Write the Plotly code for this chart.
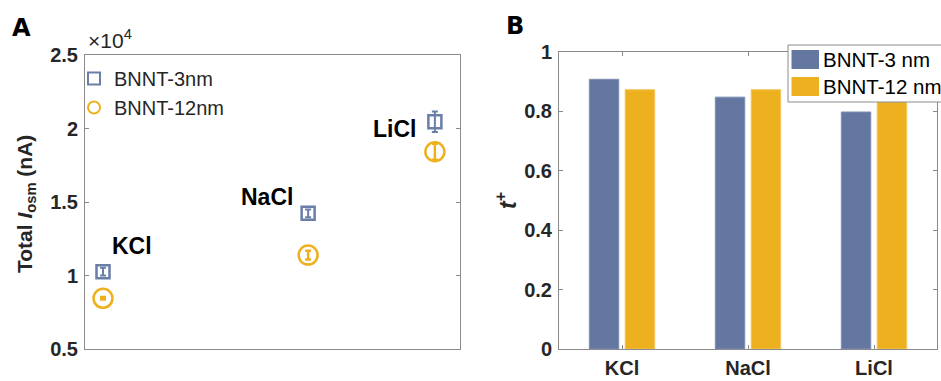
import plotly.graph_objects as go

# ---- data ----
salts = ["KCl", "NaCl", "LiCl"]
# horizontal placement of each salt in panel A
salt_pos = [0.048, 0.595, 0.933]

# Panel A: total osmotic current (nA)
iosm_3nm = [10260, 14230, 20460]
iosm_3nm_err = [260, 260, 700]
iosm_12nm = [8450, 11390, 18420]
iosm_12nm_err = [90, 300, 550]
iosm_ticks = [5000, 10000, 15000, 20000, 25000]
iosm_ticktext = ["0.5", "1", "1.5", "2", "2.5"]

# Panel B: cation transference number
tplus_3nm = [0.908, 0.848, 0.798]
tplus_12nm = [0.873, 0.873, 0.832]

BLUE = "#6477a1"
BLUE_MK = "#6a7ea8"
ORANGE = "#edb120"
AXIS = "#8a8a8a"
TXT = "#262626"
FONT = "Liberation Sans, Arial, sans-serif"

W, H = 941, 381


def px(x):
    return x / W


def py(y):
    return (H - y) / H


fig = go.Figure()

# ---- panel A ----
fig.add_trace(go.Scatter(
    x=salt_pos, y=iosm_3nm, mode="markers", name="BNNT-3nm",
    marker=dict(symbol="square-open", size=13, color=BLUE_MK, line=dict(width=2.5, color=BLUE_MK)),
    error_y=dict(type="data", array=iosm_3nm_err, color=BLUE_MK, thickness=2, width=3),
    xaxis="x", yaxis="y", legend="legend",
))
fig.add_trace(go.Scatter(
    x=salt_pos, y=iosm_12nm, mode="markers", name="BNNT-12nm",
    marker=dict(symbol="circle-open", size=19, color=ORANGE, line=dict(width=2.5, color=ORANGE)),
    error_y=dict(type="data", array=iosm_12nm_err, color=ORANGE, thickness=2.5, width=3),
    xaxis="x", yaxis="y", legend="legend",
))

# ---- panel B ----
fig.add_trace(go.Bar(
    x=salts, y=tplus_3nm, name="BNNT-3 nm", marker=dict(color=BLUE, line=dict(color="#7f90b4", width=1)),
    xaxis="x2", yaxis="y2", showlegend=False,
))
fig.add_trace(go.Bar(
    x=salts, y=tplus_12nm, name="BNNT-12 nm", marker=dict(color=ORANGE, line=dict(color="#f2c35a", width=1)),
    xaxis="x2", yaxis="y2", showlegend=False,
))

tickfont = dict(family=FONT, size=20, color=TXT, weight="bold")

annotations = [
    # panel letters
    dict(text="<b>A</b>", x=px(21), y=py(27.5), font=dict(family="Arial Black, DejaVu Sans, sans-serif",
                                                         size=24, color="black")),
    dict(text="<b>B</b>", x=px(514.5), y=py(26), font=dict(family="Arial Black, DejaVu Sans, sans-serif",
                                                          size=24, color="black")),
    # exponent label for panel A
    dict(text="×10<sup>4</sup>", x=px(86), y=py(39), xanchor="left",
         font=dict(family=FONT, size=21, color=TXT)),
    # y-axis titles
    dict(text="<b>Total <i>I</i><sub>osm</sub> (nA)</b>", x=px(26), y=py(204), textangle=-90,
         font=dict(family=FONT, size=21, color=TXT)),
    dict(text="<b><i>t</i><sup>+</sup></b>", x=px(506), y=py(200), textangle=-90,
         font=dict(family=FONT, size=23, color=TXT)),
]
for a in annotations:
    a.setdefault("xref", "paper")
    a.setdefault("yref", "paper")
    a.setdefault("xanchor", "center")
    a.setdefault("yanchor", "middle")
    a.setdefault("showarrow", False)

# salt labels next to the BNNT-3nm points
label_shift = [(29, 26), (-41, 16), (-40, -7)]
for name, xv, yv, (dx, dy) in zip(salts, salt_pos, iosm_3nm, label_shift):
    annotations.append(dict(
        text=f"<b>{name}</b>", x=xv, y=yv, xref="x", yref="y", xshift=dx, yshift=dy,
        xanchor="center", yanchor="middle",
        showarrow=False, font=dict(family=FONT, size=23, color="black"),
    ))

# panel B legend, drawn as a framed box with colour swatches
leg_items = [("BNNT-3 nm", BLUE, 50, 69), ("BNNT-12 nm", ORANGE, 77, 96)]
shapes = [dict(type="rect", xref="paper", yref="paper", x0=px(788), x1=px(950), y0=py(102), y1=py(45),
               line=dict(color=AXIS, width=1), fillcolor="white", layer="above")]
for label, col, top, bot in leg_items:
    shapes.append(dict(type="rect", xref="paper", yref="paper", x0=px(791.5), x1=px(819), y0=py(bot), y1=py(top),
                       line=dict(width=0), fillcolor=col, layer="above"))
    annotations.append(dict(text=label, xref="paper", yref="paper", x=px(821), y=py((top + bot) / 2),
                            xanchor="left", yanchor="middle", showarrow=False,
                            font=dict(family=FONT, size=20.5, color="black")))

axis_common = dict(showgrid=False, zeroline=False, showline=True, linecolor=AXIS, linewidth=1,
                   automargin=False)

fig.update_layout(
    template="none",
    width=W, height=H, margin=dict(l=0, r=0, t=0, b=0, pad=0), autosize=False,
    paper_bgcolor="white", plot_bgcolor="white",
    font=dict(family=FONT, color=TXT),
    barmode="group", bargap=0.43, bargroupgap=0.18,
    xaxis=dict(domain=[px(85), px(460)], range=[0, 1], showticklabels=False, ticks="", mirror=True,
               **axis_common),
    yaxis=dict(domain=[py(349), py(55)], range=[5000, 25000], tickvals=iosm_ticks, ticktext=iosm_ticktext,
               ticks="inside", ticklen=4, tickcolor=AXIS, tickfont=tickfont, mirror="ticks",
               ticklabelstandoff=2, **axis_common),
    xaxis2=dict(domain=[px(559), px(937)], range=[-0.5, 2.5], anchor="y2", ticks="inside", ticklen=4,
                tickcolor=AXIS, tickfont=tickfont, mirror="ticks", ticklabelstandoff=1, **axis_common),
    yaxis2=dict(domain=[py(349), py(52)], range=[0, 1], dtick=0.2, anchor="x2", ticks="inside", ticklen=4,
                tickcolor=AXIS, tickfont=tickfont, mirror="ticks", ticklabelstandoff=2, **axis_common),
    legend=dict(x=px(74), y=py(59), xanchor="left", yanchor="top", bgcolor="rgba(0,0,0,0)",
                font=dict(family=FONT, size=20, color=TXT), itemsizing="constant", tracegroupgap=0),
    annotations=annotations,
    shapes=shapes,
)

fig.write_html("out.html")
